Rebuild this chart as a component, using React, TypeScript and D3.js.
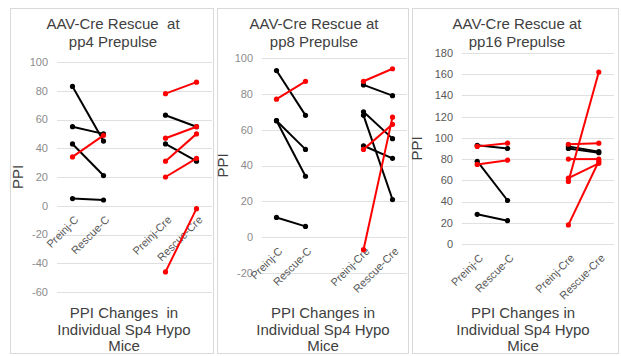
import React from "react";
import * as d3 from "d3";

// ---------- DATA ----------
const categories = ["Preinj-C", "Rescue-C", "", "Preinj-Cre", "Rescue-Cre"];
const titles = [
  ["AAV-Cre Rescue  at", "pp4 Prepulse"],
  ["AAV-Cre Rescue at", "pp8 Prepulse"],
  ["AAV-Cre Rescue at", "pp16 Prepulse"],
];
const xTitleLines = [
  ["PPI Changes  in", "Individual Sp4 Hypo", "Mice"],
  ["PPI Changes in", "Individual Sp4 Hypo", "Mice"],
  ["PPI Changes in", "Individual Sp4 Hypo", "Mice"],
];
const yTitle = "PPI";

const pp4Ticks = [-60, -40, -20, 0, 20, 40, 60, 80, 100];
const pp8Ticks = [-20, 0, 20, 40, 60, 80, 100];
const pp16Ticks = [0, 20, 40, 60, 80, 100, 120, 140, 160, 180];

// pairs: [Preinj, Rescue]
const pp4ControlBlack = [[83, 45], [55, 50], [43, 21], [5, 4]];
const pp4ControlRed = [[34, 49]];
const pp4CreBlack = [[63, 55], [43, 31]];
const pp4CreRed = [[78, 86], [47, 55], [31, 50], [20, 33], [-46, -2]];

const pp8ControlBlack = [[93, 68], [65, 49], [65, 34], [11, 6]];
const pp8ControlRed = [[77, 87]];
const pp8CreBlack = [[85, 79], [70, 55], [68, 21], [51, 44]];
const pp8CreRed = [[87, 94], [49, 63], [-7, 67]];

const pp16ControlBlack = [[93, 90], [78, 41], [28, 22]];
const pp16ControlRed = [[92, 95], [75, 79]];
const pp16CreBlack = [[92, 87], [90, 86]];
const pp16CreRed = [[94, 95], [80, 80], [62, 76], [59, 162], [18, 78]];

const BLACK = "#000000";
const RED = "#ff0000";

type Pair = number[];
type PanelSpec = {
  title: string[];
  xTitle: string[];
  ticks: number[];
  controlBlack: Pair[];
  controlRed: Pair[];
  creBlack: Pair[];
  creRed: Pair[];
  box: [number, number];
  plotX: [number, number];
  plotY: [number, number];
  titleX: number;
  xTitleX: number;
  yTitleX: number;
  tickColor: string;
};

const panels: PanelSpec[] = [
  {
    title: titles[0], xTitle: xTitleLines[0], ticks: pp4Ticks,
    controlBlack: pp4ControlBlack, controlRed: pp4ControlRed,
    creBlack: pp4CreBlack, creRed: pp4CreRed,
    box: [10, 213], plotX: [57, 212], plotY: [292, 62],
    titleX: 113, xTitleX: 124, yTitleX: 18, tickColor: "#8c8c8c",
  },
  {
    title: titles[1], xTitle: xTitleLines[1], ticks: pp8Ticks,
    controlBlack: pp8ControlBlack, controlRed: pp8ControlRed,
    creBlack: pp8CreBlack, creRed: pp8CreRed,
    box: [217, 408], plotX: [262, 407], plotY: [273, 58],
    titleX: 314, xTitleX: 323, yTitleX: 223, tickColor: "#8c8c8c",
  },
  {
    title: titles[2], xTitle: xTitleLines[2], ticks: pp16Ticks,
    controlBlack: pp16ControlBlack, controlRed: pp16ControlRed,
    creBlack: pp16CreBlack, creRed: pp16CreRed,
    box: [412, 618], plotX: [462, 614], plotY: [244, 53],
    titleX: 517, xTitleX: 523, yTitleX: 417, tickColor: "#595959",
  },
];

const FONT = "'Liberation Sans', Arial, sans-serif";

function Panel({ p }: { p: PanelSpec }) {
  const x = d3.scaleBand<string>()
    .domain(categories.map((c, i) => c || `gap${i}`))
    .range(p.plotX);
  const y = d3.scaleLinear()
    .domain([p.ticks[0], p.ticks[p.ticks.length - 1]])
    .range(p.plotY);
  const cx = (c: string) => (x(c) as number) + x.bandwidth() / 2;
  const line = d3.line<[number, number]>().x((d) => d[0]).y((d) => d[1]);

  const renderPairs = (pairs: Pair[], a: string, b: string, color: string, key: string) =>
    pairs.map((pr, i) => {
      const pts: [number, number][] = [[cx(a), y(pr[0])], [cx(b), y(pr[1])]];
      return (
        <g key={`${key}${i}`}>
          <path d={line(pts) || ""} stroke={color} strokeWidth={2} fill="none" />
          {pts.map((pt, j) => (
            <circle key={j} cx={pt[0]} cy={pt[1]} r={2.6} fill={color} />
          ))}
        </g>
      );
    });

  const zeroY = y(Math.max(0, p.ticks[0]));

  return (
    <g>
      <rect x={p.box[0] + 0.5} y={8.5} width={p.box[1] - p.box[0]} height={345}
        fill="#ffffff" stroke="#d9d9d9" strokeWidth={1} />
      {p.ticks.map((t) => (
        <g key={t}>
          <line x1={p.plotX[0]} x2={p.plotX[1]} y1={Math.round(y(t)) + 0.5} y2={Math.round(y(t)) + 0.5}
            stroke="#e0e0e0" strokeWidth={1} />
          <text x={p.plotX[0] - 9} y={y(t)} dy="0.35em" textAnchor="end"
            fontSize={11} fill={p.tickColor} fontFamily={FONT}>{t}</text>
        </g>
      ))}
      {p.title.map((s, i) => (
        <text key={i} x={p.titleX} y={24 + i * 18} dy="0.35em" textAnchor="middle"
          fontSize={15} fill="#404040" fontFamily={FONT} style={{ whiteSpace: "pre" }}>{s}</text>
      ))}
      {p.xTitle.map((s, i) => (
        <text key={i} x={p.xTitleX} y={313 + i * 16.5} dy="0.35em" textAnchor="middle"
          fontSize={15} fill="#404040" fontFamily={FONT} style={{ whiteSpace: "pre" }}>{s}</text>
      ))}
      <text transform={`translate(${p.yTitleX},${(p.plotY[0] + p.plotY[1]) / 2}) rotate(-90)`}
        dy="0.35em" textAnchor="middle" fontSize={15} fill="#404040" fontFamily={FONT}>{yTitle}</text>
      {categories.map((c, i) => c ? (
        <text key={c} transform={`translate(${cx(c) + 4},${zeroY + 12}) rotate(-45)`}
          textAnchor="end" dy="0.35em" fontSize={11} fill="#595959" fontFamily={FONT}>{c}</text>
      ) : null)}
      {renderPairs(p.controlBlack, "Preinj-C", "Rescue-C", BLACK, "cb")}
      {renderPairs(p.controlRed, "Preinj-C", "Rescue-C", RED, "cr")}
      {renderPairs(p.creBlack, "Preinj-Cre", "Rescue-Cre", BLACK, "kb")}
      {renderPairs(p.creRed, "Preinj-Cre", "Rescue-Cre", RED, "kr")}
    </g>
  );
}

export default function App() {
  return (
    <svg width={621} height={356} style={{ position: "absolute", left: 0, top: 0, background: "#fff" }}>
      <rect x={0} y={0} width={621} height={356} fill="#ffffff" />
      {panels.map((p, i) => <Panel key={i} p={p} />)}
    </svg>
  );
}
